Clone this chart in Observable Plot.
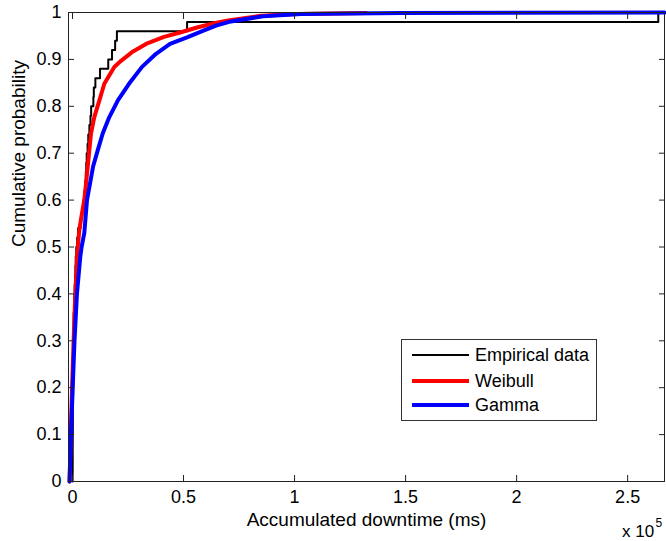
<!DOCTYPE html>
<html><head><meta charset="utf-8">
<script src="https://cdn.jsdelivr.net/npm/d3@7"></script>
<script src="https://cdn.jsdelivr.net/npm/@observablehq/plot@0.6"></script>
<style>
body{margin:0;background:#fff;}
#wrap{position:relative;width:666px;height:541px;font-family:"Liberation Sans",Arial,sans-serif;color:#000;}
#wrap svg{display:block;}
.ov{position:absolute;white-space:nowrap;}
</style></head><body><div id="wrap"></div>
<script>
const empiricalDowntime = [50,80,100,100,120,150,180,200,230,260,300,330,360,400,430,450,480,520,
  700,850,1000,1150,1300,1450,1700,2100,2500,3600,4300,5000,5400,5700,6000,6200,6400,6800,7100,7600,
  8100,8400,9400,9600,10300,12400,16100,17800,19200,20000,51600,263800];
// Weibull fitted CDF
const weibullX = [-1300,-800,-200,500,1260,2200,3060,4140,5300,6080,6850,7570,8330,9820,11940,14330,18830,21850,27260,33110,41220,48880,56090,63750,70050,84920,100700,132200];
const weibullP = [0,0.1,0.2,0.3,0.4,0.49,0.536,0.568,0.6,0.635,0.671,0.706,0.742,0.777,0.81,0.848,0.884,0.897,0.917,0.933,0.948,0.958,0.968,0.977,0.983,0.993,0.997,0.999];
// Gamma fitted CDF
const gammaX = [-1350,-680,90,900,2000,3500,4100,5320,6530,7880,9240,11350,13600,16580,20500,25450,31310,37620,43920,51580,59240,64650,71400,85820,102900,147900,266600];
const gammaP = [0,0.1,0.2,0.3,0.4,0.479,0.5,0.53,0.6,0.635,0.671,0.706,0.742,0.777,0.813,0.848,0.884,0.912,0.933,0.947,0.962,0.972,0.981,0.992,0.997,0.999,1.0];
const yTicks = [0,0.1,0.2,0.3,0.4,0.5,0.6,0.7,0.8,0.9,1];
const yTickLabels = ["0","0.1","0.2","0.3","0.4","0.5","0.6","0.7","0.8","0.9","1"];
const xTicks = [0,50000,100000,150000,200000,250000];
const xTickLabels = ["0","0.5","1","1.5","2","2.5"];
const seriesNames = ["Empirical data","Weibull","Gamma"];
const seriesColors = ["#000000","#ff0000","#0000ff"];
const seriesWidths = [2,4,4];

const n = empiricalDowntime.length;
const ecdf = [{x: empiricalDowntime[0], p: 0}].concat(empiricalDowntime.map((v,i)=>({x:v, p:(i+1)/n})));
const weibull = weibullX.map((x,i)=>({x, p: weibullP[i]}));
const gamma = gammaX.map((x,i)=>({x, p: gammaP[i]}));

const yfmt = d => yTickLabels[yTicks.indexOf(d)];
const xfmt = d => xTickLabels[xTicks.indexOf(d)];

const chart = Plot.plot({
  width: 666, height: 541,
  marginLeft: 68, marginRight: 2, marginTop: 12, marginBottom: 60,
  x: {domain: [-1800, 266600]},
  y: {domain: [0, 1]},
  style: {fontFamily: '"Liberation Sans", Arial, sans-serif', fontSize: "18px", color: "#000", background: "#fff", overflow: "visible"},
  marks: [
    Plot.line(ecdf, {x: "x", y: "p", curve: "step-after", stroke: seriesColors[0], strokeWidth: seriesWidths[0]}),
    Plot.line(weibull, {x: "x", y: "p", curve: "linear", stroke: seriesColors[1], strokeWidth: seriesWidths[1]}),
    Plot.line(gamma, {x: "x", y: "p", curve: "linear", stroke: seriesColors[2], strokeWidth: seriesWidths[2]}),
    Plot.frame({stroke: "#222"}),
    Plot.axisY(yTicks, {anchor: "left", tickSize: -6, tickPadding: 13, tickFormat: yfmt, label: null, stroke: "#222"}),
    Plot.axisY(yTicks, {anchor: "right", tickSize: -6, tickFormat: () => "", label: null, stroke: "#222"}),
    Plot.axisX(xTicks, {anchor: "bottom", tickSize: -6, tickPadding: 15, tickFormat: xfmt, label: null, stroke: "#222"}),
    Plot.axisX(xTicks, {anchor: "top", tickSize: -6, tickFormat: () => "", label: null, stroke: "#222"}),
    Plot.text(["Cumulative probability"], {frameAnchor: "left", rotate: -90, dx: -50, fontSize: 19}),
    Plot.text(["Accumulated downtime (ms)"], {frameAnchor: "bottom", dy: 44, fontSize: 19})
  ]
});
const wrap = document.getElementById("wrap");
wrap.appendChild(chart);

// exponent note
const ex = document.createElement("div");
ex.className = "ov";
ex.style.cssText = "left:0;top:0;";
ex.innerHTML = '<svg width="666" height="541" style="position:absolute;left:0;top:0;pointer-events:none" font-family="Liberation Sans, Arial, sans-serif">'
  + '<text x="622" y="536.5" font-size="17">x 10</text>'
  + '<text x="655.5" y="526.5" font-size="12">5</text></svg>';
wrap.appendChild(ex);

// legend
const lg = document.createElement("div");
lg.className = "ov";
lg.style.cssText = "left:401px;top:339px;width:194px;height:80px;border:1px solid #333;background:#fff;";
const rowsY = [15, 41, 65];
let svgL = '<svg width="194" height="80" style="position:absolute;left:0;top:0">';
seriesNames.forEach((nm,i)=>{
  svgL += `<line x1="10" x2="67" y1="${rowsY[i]}" y2="${rowsY[i]}" stroke="${seriesColors[i]}" stroke-width="${seriesWidths[i]}"/>`;
  svgL += `<text x="73" y="${rowsY[i]}" dy="0.36em" font-size="18" font-family="Liberation Sans, Arial, sans-serif">${nm}</text>`;
});
svgL += '</svg>';
lg.innerHTML = svgL;
wrap.appendChild(lg);
</script>
</body></html>
